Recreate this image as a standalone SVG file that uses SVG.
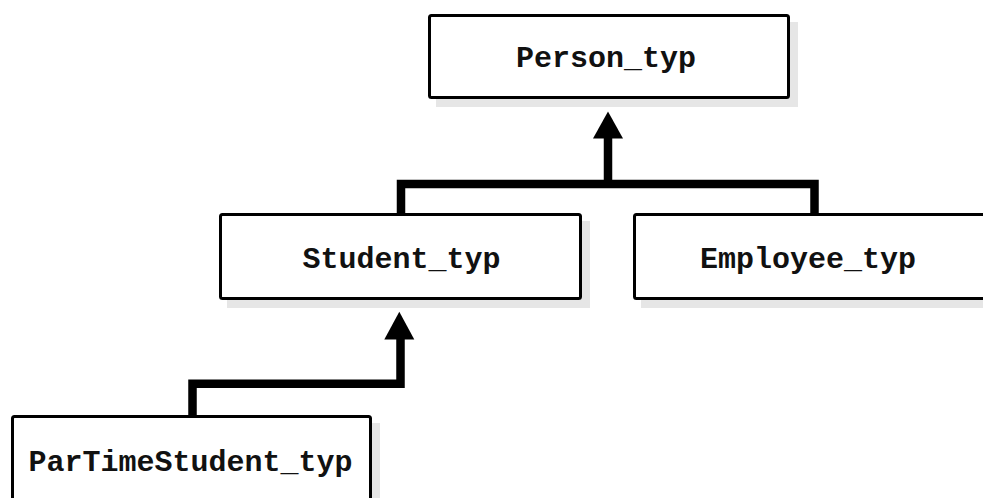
<svg xmlns="http://www.w3.org/2000/svg" width="983" height="498" viewBox="0 0 983 498">
  <style>
    .shadow { fill: #e6e6e6; stroke: none; }
    .box { fill: #ffffff; stroke: #000000; stroke-width: 3; }
    .label { font-family: "Liberation Mono", "Courier New", monospace; font-weight: bold; font-size: 30px; fill: #111111; text-anchor: middle; }
    .conn { fill: none; stroke: #000000; stroke-width: 8.5; stroke-linejoin: miter; stroke-linecap: butt; }
    .head { fill: #000000; stroke: none; }
  </style>
  <rect width="983" height="498" fill="#ffffff"/>
  <g id="connectors">
    <path class="conn" d="M401,214 V184 H814.5 V214"/>
    <path class="conn" d="M608,184 V136"/>
    <polygon class="head" points="593,138.5 623,138.5 608,111.5"/>
    <path class="conn" d="M192.5,416 V383.7 H400.5 V337"/>
    <polygon class="head" points="384.3,339.5 414.3,339.5 399.3,311.7"/>
  </g>
  <g id="person_typ">
    <rect class="shadow" x="436" y="22" width="362" height="85"/>
    <rect class="box" x="429.5" y="15.5" width="359" height="82" rx="2"/>
    <text class="label" x="606" y="67">Person_typ</text>
  </g>
  <g id="student_typ">
    <rect class="shadow" x="227" y="221" width="363" height="87"/>
    <rect class="box" x="220.5" y="214.5" width="360" height="84" rx="2"/>
    <text class="label" x="401.5" y="268">Student_typ</text>
  </g>
  <g id="employee_typ">
    <rect class="shadow" x="641" y="221" width="363" height="87"/>
    <rect class="box" x="634.5" y="214.5" width="360" height="84" rx="2"/>
    <text class="label" x="808" y="268">Employee_typ</text>
  </g>
  <g id="partimestudent_typ">
    <rect class="shadow" x="19" y="423" width="361" height="87"/>
    <rect class="box" x="12.5" y="416.5" width="358" height="84" rx="2"/>
    <text class="label" x="190.5" y="471">ParTimeStudent_typ</text>
  </g>
</svg>
